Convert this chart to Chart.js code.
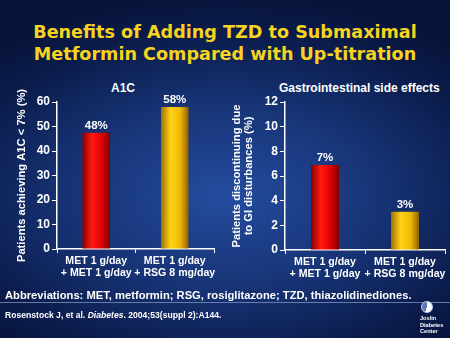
<!DOCTYPE html>
<html>
<head>
<meta charset="utf-8">
<script src="https://cdn.jsdelivr.net/npm/chart.js@4.4.1/dist/chart.umd.min.js"></script>
<style>
  html, body { margin: 0; padding: 0; }
  body {
    width: 450px; height: 338px; overflow: hidden; position: relative;
    font-family: "Liberation Sans", Arial, sans-serif;
    background: radial-gradient(ellipse 75% 60% at 50% 58%, #244c9f 0%, #173476 45%, #0b1c4c 80%, #07143a 100%);
  }
  .title {
    position: absolute; left: 0; top: 21px; width: 450px; text-align: center;
    color: #f7d321; font-weight: bold; font-size: 17.6px; line-height: 22px;
    font-family: "DejaVu Sans", sans-serif;
  }
  .sub { position: absolute; color: #fff; font-weight: bold; font-size: 12px; top: 81px; }
  .chart-box { position: absolute; top: 80px; width: 225px; height: 210px; }
  .abbr { position: absolute; left: 5px; top: 289px; color: #fff; font-weight: bold; font-size: 11.2px; white-space: nowrap; }
  .rule { position: absolute; left: 0; top: 302px; width: 450px; height: 1px; background: #8aa0c8; opacity: .7; }
  .ref { position: absolute; left: 5px; top: 310px; color: #fff; font-weight: bold; font-size: 8.6px; white-space: nowrap; }
  .logo { position: absolute; left: 420px; top: 301px; width: 30px; text-align: left; color: #fff; font-weight: bold; font-size: 5.6px; line-height: 6.5px; }
  .logo .dot { width: 12px; height: 12px; border-radius: 50%; margin: 0 0 2px 1px;
    background: conic-gradient(#fff 0 200deg, #5a7ab8 200deg 360deg); border: 1px solid #c8d4ea; box-sizing: border-box; }
</style>
</head>
<body>
<div class="title">Benefits of Adding TZD to Submaximal<br>Metformin Compared with Up-titration</div>
<div class="sub" style="left:111px">A1C</div>
<div class="sub" style="left:279px">Gastrointestinal side effects</div>
<div class="chart-box" style="left:0"><canvas id="c1"></canvas></div>
<div class="chart-box" style="left:225px"><canvas id="c2"></canvas></div>
<div class="abbr">Abbreviations: MET, metformin; RSG, rosiglitazone; TZD, thiazolidinediones.</div>
<div class="rule"></div>
<div class="ref">Rosenstock J, et al. <i>Diabetes</i>. 2004;53(suppl 2):A144.</div>
<div class="logo"><div class="dot"></div>Joslin<br>Diabetes<br>Center</div>
<script>
// 投与群ラベル
const groups = [['MET 1 g/day', '+ MET 1 g/day'], ['MET 1 g/day', '+ RSG 8 mg/day']];
// A1C < 7% 達成率 (%)
const a1cValues = [47.5, 58];
const a1cLabels = ['48%', '58%'];
// GI 障害による中止率 (%)
const giValues = [6.9, 3.1];
const giLabels = ['7%', '3%'];

const barColors = [
  ['#8a0000', '#ff1a10', '#e00000', '#7a0000'],
  ['#a07000', '#ffd21a', '#f0b800', '#906000']
];

function barFill(ctx) {
  const chart = ctx.chart;
  const stops = barColors[ctx.dataIndex];
  const el = chart.getDatasetMeta(0).data[ctx.dataIndex];
  if (!el || !Number.isFinite(el.x) || !Number.isFinite(el.width)) return stops[1];
  const w = el.width;
  const g = chart.ctx.createLinearGradient(el.x - w / 2, 0, el.x + w / 2, 0);
  g.addColorStop(0, stops[0]);
  g.addColorStop(0.35, stops[1]);
  g.addColorStop(0.7, stops[2]);
  g.addColorStop(1, stops[3]);
  return g;
}

// 棒の上の値ラベル
const valueLabels = {
  id: 'valueLabels',
  afterDatasetsDraw(chart, args, opts) {
    const c = chart.ctx;
    c.save();
    c.fillStyle = '#fff';
    c.font = 'bold 11.5px "Liberation Sans", Arial, sans-serif';
    c.textAlign = 'center';
    c.textBaseline = 'bottom';
    chart.getDatasetMeta(0).data.forEach((bar, i) => {
      c.fillText(opts.labels[i], bar.x, bar.y - 1);
    });
    c.restore();
  }
};

const tickFont = { family: '"Liberation Sans", Arial, sans-serif', weight: 'bold', size: 12 };

function makeChart(id, values, labels, yMax, yStep, yTitle, yWidth, pad) {
  const chart = new Chart(document.getElementById(id), {
    type: 'bar',
    data: {
      labels: groups,
      datasets: [{ data: values, backgroundColor: barColors.map(s => s[1]), borderWidth: 0,
        barPercentage: 0.35, categoryPercentage: 1 }]
    },
    options: {
      responsive: false,
      animation: false,
      layout: { padding: pad },
      plugins: { legend: { display: false }, tooltip: { enabled: false }, valueLabels: { labels } },
      scales: {
        x: {
          grid: { display: true, drawOnChartArea: false, offset: true, color: '#fff', tickLength: 4 },
          border: { color: '#fff', width: 1.5 },
          ticks: { color: '#fff', font: { ...tickFont, size: 10.6, lineHeight: 1.15 }, maxRotation: 0, minRotation: 0, autoSkip: false, padding: 2 },
          afterFit: s => { s.height = 33; }
        },
        y: {
          min: 0, max: yMax,
          grid: { display: true, drawOnChartArea: false, color: '#fff', tickLength: 5 },
          border: { color: '#fff', width: 1.5 },
          ticks: { stepSize: yStep, color: '#fff', font: tickFont, padding: 2 },
          title: { display: true, text: yTitle, color: '#fff',
            font: { ...tickFont, size: 11.2, lineHeight: 1.05 }, padding: 0 },
          afterFit: s => { s.width = yWidth; }
        }
      }
    },
    plugins: [valueLabels]
  });
  // 位置確定後にグラデーションを適用
  chart.data.datasets[0].backgroundColor = barFill;
  chart.update('none');
  return chart;
}

document.getElementById('c1').width = 225; document.getElementById('c1').height = 210;
document.getElementById('c2').width = 225; document.getElementById('c2').height = 210;

makeChart('c1', a1cValues, a1cLabels, 60, 10, 'Patients achieving A1C < 7% (%)', 41,
  { left: 16, right: 11, top: 22, bottom: 8 });
makeChart('c2', giValues, giLabels, 12, 2, ['Patients discontinuing due', 'to GI disturbances (%)'], 54,
  { left: 6, right: 5, top: 22, bottom: 7 });
</script>
</body>
</html>
